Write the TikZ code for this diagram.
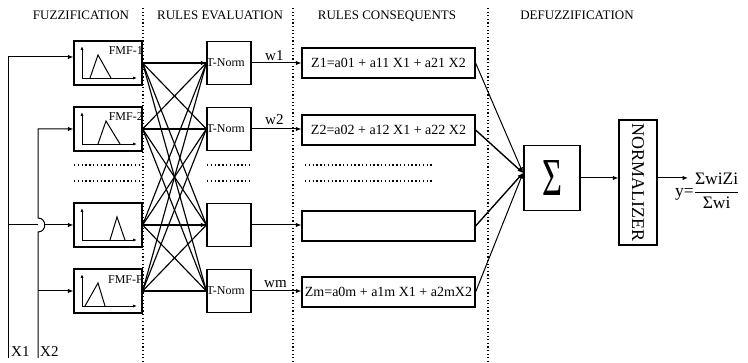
\documentclass[tikz,border=0pt]{standalone}
\usepackage{fontspec}
\setmainfont{Liberation Serif}
\usepackage{graphicx}
\usetikzlibrary{arrows.meta,calc}
\tikzset{
 box/.style={draw, line width=1.2pt, inner sep=0pt},
 fmfbox/.style={box, minimum width=68pt, minimum height=44pt},
 tnbox/.style={box, minimum width=44pt, minimum height=43pt},
 zbox/.style={box, minimum width=173pt, minimum height=30pt, font=\fontsize{14}{16}\selectfont},
 arr/.style={-{Latex[length=5.5pt,width=4.5pt]}, line width=1pt},
 axarr/.style={-{Latex[length=4pt,width=3pt]}, line width=0.9pt},
 cross/.style={line width=1.15pt},
 sep/.style={line width=1.4pt, dash pattern=on 1.3pt off 2.3pt},
 dots/.style={line width=1.3pt, dash pattern=on 1.3pt off 2.5pt},
 head/.style={font=\fontsize{13}{15}\selectfont, anchor=base},
 smalltxt/.style={font=\fontsize{12}{14}\selectfont, inner sep=0pt},
 wlab/.style={font=\fontsize{15}{17}\selectfont, anchor=base west, inner sep=0pt},
}
\begin{document}
\begin{tikzpicture}[x=1pt,y=-1pt]
\useasboundingbox (0,0) rectangle (748,363);
% separators
\draw[sep] (143,8) -- (143,363);
\draw[sep] (293,8) -- (293,363);
\draw[sep] (488,8) -- (488,363);
% headers
\node[head] (h1) at (81,19.5) {FUZZIFICATION};
\node[head] (h2) at (220,19.5) {RULES EVALUATION};
\node[head] (h3) at (387,19.5) {RULES CONSEQUENTS};
\node[head] (h4) at (577,19.5) {DEFUZZIFICATION};
% FMF boxes
\node[fmfbox] (f1) at (108,63) {};
\node[fmfbox] (f2) at (108,129) {};
\node[fmfbox] (f3) at (108,225) {};
\node[fmfbox] (f4) at (108,291) {};
\node[smalltxt, anchor=base east] (l1) at (143,55) {FMF-1};
\node[smalltxt, anchor=base east] (l2) at (143,121) {FMF-2};
\node[smalltxt, anchor=base east] (l4) at (143,284) {FMF-F};
\foreach \t/\a/\b/\c in {41/90/98/111, 107/98/106/120, 203/110/117/125, 269/85/98/105}{
  \draw[axarr] (82,{\t+37}) -- (82,{\t+5});
  \draw[axarr] (82,{\t+37}) -- (137,{\t+37});
  \draw[line width=1pt] (\a,{\t+37}) -- (\b,{\t+14}) -- (\c,{\t+37});
}
% T-Norm boxes
\node[tnbox] (t1) at (229,63) {};
\node[tnbox] (t2) at (229,129) {};
\node[tnbox] (t3) at (229,225) {};
\node[tnbox] (t4) at (229,291) {};
\node[smalltxt, anchor=west] (n1) at (t1.west) {T-Norm};
\node[smalltxt, anchor=west] (n2) at (t2.west) {T-Norm};
\node[smalltxt, anchor=west] (n4) at (t4.west) {T-Norm};
% Z boxes
\node[zbox] (z1) at (388.5,63) {Z1=a01 + a11 X1 + a21 X2};
\node[zbox] (z2) at (388.5,130) {Z2=a02 + a12 X1 + a22 X2};
\node[zbox] (z3) at (388.5,226) {};
\node[zbox] (z4) at (388.5,292) {Zm=a0m + a1m X1 + a2mX2};
% dotted ellipsis rows
\foreach \y in {165,181}{
  \draw[dots] (74,\y) -- (142,\y);
  \draw[dots] (207,\y) -- (250,\y);
  \draw[dots] (305,\y) -- (433,\y);
}
% full connections
\foreach \i in {1,...,4}{\foreach \j in {1,...,4}{\draw[cross] (f\i.east) -- (t\j.west);}}
\draw[arr] (f1.east) -- (t1.west);
\draw[arr] (f3.east) -- (t3.west);
% T-Norm to Z
\draw[arr] (t1.east) -- (t1.east -| z1.west);
\draw[arr] (t2.east) -- (t2.east -| z2.west);
\draw[arr] (t3.east) -- (t3.east -| z3.west);
\draw[arr] (t4.east) -- (t4.east -| z4.west);
\node[wlab] (w1) at (265,61) {w1};
\node[wlab] (w2) at (265,125) {w2};
\node[wlab] (wm) at (264,288) {wm};
% Sigma and normalizer
\node[box, minimum width=56pt, minimum height=65pt] (s) at (552,178) {\resizebox{20pt}{35pt}{Σ}};
\node[box, minimum width=38pt, minimum height=125pt] (nm) at (638,182.5) {};
\node[rotate=-90, font=\fontsize{18}{20}\selectfont, inner sep=0pt] (nt) at (nm.center) {NORMALIZER};
\coordinate (sin) at (523,173);
\draw[arr] (z1.east) -- (sin);
\draw[arr, line width=1.4pt] (z2.east) -- (sin);
\draw[arr, line width=1.4pt] (z3.east) -- (sin);
\draw[arr] (z4.east) -- (sin);
\draw[arr] (s.east) -- (s.east -| nm.west);
\coordinate (yout) at (688,178);
\draw[arr] (nm.east |- s.east) -- (yout);
\node[font=\fontsize{17.5}{19}\selectfont, inner sep=0pt, anchor=west] (yeq) at (675,191) {$\hbox{y=}\displaystyle\frac{\hbox{ΣwiZi}}{\hbox{Σwi}}$};
% inputs
\coordinate (x1b) at (8,358);
\coordinate (x1t) at (8,57);
\coordinate (x2b) at (38,358);
\coordinate (x2t) at (38,129);
\draw[line width=1pt] (8,225) -- (38,225);
\draw[arr] (45,225) -- (f3.west);
\draw[arr] (x1b) -- (x1t) -- (x1t -| f1.west);
\draw[arr] (x2b) -- (38,232) .. controls (47,232) and (47,218) .. (38,218) -- (x2t) -- (f2.west);
\draw[arr] (38,291) -- (f4.west);
\node[wlab] (x1l) at (11,357) {X1};
\node[wlab] (x2l) at (40,357) {X2};
\end{tikzpicture}
\end{document}
